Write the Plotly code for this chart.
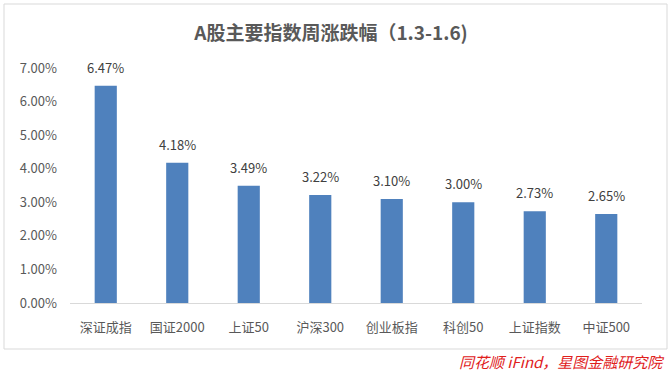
import plotly.graph_objects as go

categories = ["深证成指", "国证2000", "上证50", "沪深300", "创业板指", "科创50", "上证指数", "中证500"]
values = [6.47, 4.18, 3.49, 3.22, 3.10, 3.00, 2.73, 2.65]
y_ticks = [0, 1, 2, 3, 4, 5, 6, 7]
y_tick_labels = [f"{v:.2f}%" for v in y_ticks]
title_text = "A股主要指数周涨跌幅（1.3-1.6)"
source_text = "同花顺 iFind，星图金融研究院"

W, H = 672, 371
L, R, T, B = 70, 30, 68, 68
PH = H - T - B
PW = W - L - R
font_family = "Noto Sans CJK SC, Microsoft YaHei, sans-serif"

def px_x(p):
    return (p - L) / PW

def px_y(p):
    return (H - B - p) / PH

fig = go.Figure()
fig.add_trace(go.Bar(
    x=categories, y=values,
    marker=dict(color="#4f81bd", line=dict(width=0)),
    width=0.31,
    hoverinfo="x+y",
))

annotations = [dict(x=c, y=v, xref="x", yref="y", text=f"{v:.2f}%", showarrow=False,
                    yanchor="bottom", yshift=7,
                    font=dict(size=13, color="#404040", family=font_family))
               for c, v in zip(categories, values)]
annotations.append(dict(text="<i>" + source_text + "</i>", xref="paper", yref="paper",
                        x=px_x(666), y=px_y(361), xanchor="right", yanchor="middle",
                        showarrow=False, font=dict(size=15, color="#e0201b", family=font_family)))

fig.update_layout(
    width=W, height=H,
    margin=dict(l=L, r=R, t=T, b=B),
    paper_bgcolor="white", plot_bgcolor="white",
    showlegend=False,
    font=dict(family=font_family, color="#595959"),
    title=dict(text="<b>" + title_text + "</b>", x=331 / W, xanchor="center", y=1 - 33 / H, yanchor="middle",
               font=dict(size=19, color="#595959", family=font_family)),
    xaxis=dict(showline=True, linecolor="#d9d9d9", linewidth=1, ticks="", showgrid=False,
               tickfont=dict(size=13, color="#595959"), ticklabelstandoff=12),
    yaxis=dict(range=[0, 7], tickvals=y_ticks, ticktext=y_tick_labels, showgrid=False,
               zeroline=False, showline=False, ticks="",
               tickfont=dict(size=13, color="#595959"), ticklabelstandoff=12),
    shapes=[dict(type="rect", xref="paper", yref="paper",
                 x0=px_x(4), x1=px_x(667), y0=px_y(349), y1=px_y(4),
                 line=dict(color="#d9d9d9", width=1), fillcolor="rgba(0,0,0,0)", layer="below")],
    annotations=annotations,
)

fig.write_html("out.html")
